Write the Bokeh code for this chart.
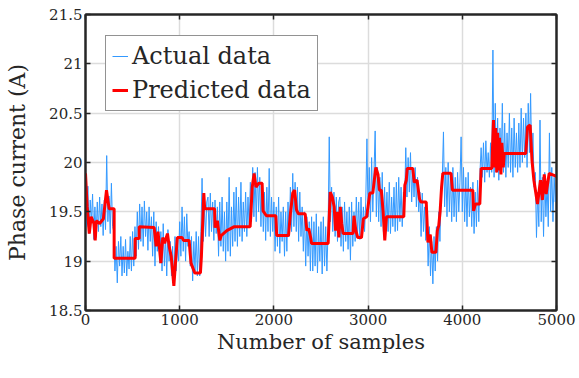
from bokeh.plotting import figure
from bokeh.models import Range1d, FixedTicker, LinearAxis, Legend, LegendItem, CustomJSTickFormatter
from bokeh.embed import file_html
from bokeh.resources import INLINE

# ---- data ----
sample_step = 12.5
actual_values = [
    19.70, 19.35, 19.76, 19.28, 19.62, 19.40, 19.68, 19.22,
    19.55, 19.24, 19.60, 19.30, 19.65, 19.35, 19.58, 19.26,
    19.62, 19.32, 20.07, 19.40, 19.66, 19.28, 19.79, 19.35,
    19.30, 18.90, 19.15, 18.78, 19.20, 18.95, 19.25, 18.85,
    19.15, 18.88, 19.22, 18.85, 19.10, 18.92, 19.25, 18.90,
    19.30, 18.95, 19.35, 19.05, 19.50, 19.12, 19.58, 19.20,
    19.55, 19.15, 19.61, 19.25, 19.50, 19.11, 19.55, 19.20,
    19.45, 19.05, 19.50, 18.95, 19.40, 19.10, 19.35, 18.98,
    19.30, 18.90, 19.38, 18.95, 19.25, 18.85, 19.32, 19.00,
    19.20, 18.85, 19.15, 18.75, 19.25, 18.90, 19.18, 19.00,
    19.40, 19.05, 19.55, 19.10, 19.45, 19.00, 19.48, 19.15,
    19.30, 18.95, 19.25, 18.80, 19.20, 18.90, 19.30, 18.85,
    19.25, 18.85, 19.30, 19.84, 19.20, 19.55, 19.25, 19.60,
    19.65, 19.25, 19.69, 19.30, 19.60, 19.21, 19.62, 19.28,
    19.55, 19.05, 19.60, 19.15, 19.65, 19.10, 19.50, 19.00,
    19.60, 19.10, 19.85, 19.05, 19.55, 19.15, 19.70, 19.20,
    19.75, 19.15, 19.65, 19.25, 19.80, 19.20, 19.60, 19.30,
    19.70, 19.25, 19.65, 19.35, 19.80, 19.40, 19.95, 19.45,
    19.90, 19.40, 19.95, 19.50, 19.85, 19.35, 19.80, 19.30,
    19.70, 19.21, 19.75, 19.30, 19.94, 19.25, 19.65, 19.30,
    19.60, 19.10, 19.55, 19.15, 19.65, 19.08, 19.50, 19.20,
    19.55, 19.05, 19.50, 19.10, 19.60, 19.25, 19.75, 19.30,
    19.89, 19.35, 19.80, 19.30, 19.75, 19.20, 19.70, 19.25,
    19.55, 19.10, 19.50, 18.95, 19.45, 19.05, 19.40, 18.90,
    19.45, 18.90, 19.40, 18.95, 19.48, 18.88, 19.35, 19.00,
    19.40, 18.87, 19.45, 18.95, 19.35, 18.90, 19.30, 20.26,
    19.40, 19.75, 19.30, 19.70, 19.25, 19.65, 19.20, 19.60,
    19.65, 19.15, 19.55, 19.10, 19.60, 19.20, 19.50, 19.12,
    19.55, 19.01, 19.60, 19.15, 19.50, 19.20, 19.65, 19.25,
    19.60, 19.22, 19.65, 19.25, 19.55, 19.30, 19.60, 20.24,
    19.45, 19.95, 19.40, 20.05, 19.50, 19.90, 20.32, 19.45,
    19.95, 19.40, 19.85, 19.35, 19.90, 19.30, 19.75, 19.35,
    19.70, 19.30, 19.80, 19.28, 19.65, 19.35, 19.75, 19.30,
    19.80, 19.31, 19.85, 19.40, 19.75, 19.35, 19.70, 19.60,
    20.15, 19.65, 20.05, 19.70, 20.10, 19.60, 19.95, 19.65,
    19.95, 19.55, 19.85, 19.50, 19.70, 19.25, 19.69, 19.30,
    19.55, 19.21, 19.40, 18.95, 19.35, 18.85, 19.20, 18.77,
    19.25, 18.90, 19.35, 19.00, 19.50, 19.20, 19.65, 19.85,
    20.31, 19.55, 19.95, 19.45, 20.00, 19.50, 19.90, 19.40,
    19.95, 19.45, 19.85, 19.40, 19.90, 19.50, 19.80, 20.26,
    19.50, 19.95, 19.40, 19.85, 19.35, 19.90, 19.45, 19.75,
    19.35, 19.80, 19.28, 19.70, 19.35, 19.82, 19.40, 19.90,
    20.15, 19.85, 20.20, 19.80, 20.22, 19.90, 20.10, 19.85,
    20.20, 19.90, 21.14, 19.85, 20.60, 19.90, 20.45, 19.82,
    20.35, 19.95, 20.60, 19.90, 20.40, 19.85, 20.30, 19.95,
    20.50, 19.90, 20.35, 19.85, 20.45, 19.95, 20.30, 19.90,
    20.40, 19.95, 20.55, 20.00, 20.45, 20.05, 20.50, 19.95,
    20.60, 20.10, 20.70, 20.00, 20.30, 19.75, 19.90, 19.24,
    19.70, 19.35, 20.43, 19.40, 19.85, 19.25, 19.90, 19.45,
    19.80, 19.35, 20.30, 19.50, 19.95, 19.40, 19.85, 19.60,
    19.80,
]
actual_samples = [i * sample_step for i in range(len(actual_values))]

predicted_samples = [
    0, 18, 40, 60, 90, 103, 115, 150, 190, 223, 251, 304, 304, 527, 527, 570,
    570, 729, 750, 770, 800, 820, 840, 870, 890, 910, 938, 955, 975, 1026,
    1040, 1100, 1120, 1160, 1220, 1230, 1256, 1265, 1370, 1375, 1400, 1426,
    1440, 1500, 1580, 1748, 1770, 1790, 1810, 1840, 1875, 1885, 1920, 2020,
    2030, 2155, 2175, 2200, 2220, 2240, 2260, 2332, 2350, 2370, 2390, 2400,
    2576, 2598, 2620, 2640, 2655, 2670, 2690, 2705, 2720, 2735, 2840, 2850,
    2870, 2890, 2930, 2950, 2985, 3018, 3050, 3082, 3105, 3120, 3140, 3160,
    3177, 3195, 3379, 3390, 3405, 3415, 3474, 3490, 3520, 3546, 3560, 3617,
    3635, 3660, 3677, 3720, 3735, 3750, 3765, 3780, 3793, 3880, 3895, 4111,
    4120, 4140, 4186, 4200, 4313, 4331, 4345, 4355, 4365, 4375, 4385, 4395,
    4410, 4420, 4435, 4445, 4674, 4692, 4720, 4740, 4760, 4798, 4830, 4850,
    4870, 4890, 4922, 5000,
]
predicted_values = [
    19.89, 19.55, 19.28, 19.45, 19.38, 19.21, 19.41, 19.38, 19.43, 19.72, 19.53, 19.53, 19.03, 19.03, 19.23, 19.23,
    19.35, 19.34, 19.15, 19.30, 18.98, 19.24, 19.18, 19.28, 19.14, 19.05, 18.75, 18.98, 19.24, 19.24,
    19.21, 19.21, 18.98, 18.88, 18.88, 19.04, 19.69, 19.53, 19.53, 19.34, 19.41, 19.21,
    19.26, 19.31, 19.35, 19.35, 19.75, 19.89, 19.75, 19.79, 19.79, 19.51, 19.46, 19.46,
    19.26, 19.26, 19.48, 19.69, 19.72, 19.52, 19.48, 19.48, 19.31, 19.33, 19.24, 19.18,
    19.18, 19.70, 19.65, 19.55, 19.31, 19.50, 19.24, 19.55, 19.38, 19.28, 19.28, 19.46,
    19.31, 19.24, 19.24, 19.43, 19.45, 19.69, 19.69, 19.95, 19.88, 19.72, 19.72, 19.50,
    19.21, 19.45, 19.45, 19.77, 19.82, 19.94, 19.94, 19.80, 19.82, 19.63, 19.60, 19.60,
    19.19, 19.27, 19.09, 19.09, 19.31, 19.36, 19.51, 19.75, 19.89, 19.89, 19.72, 19.72,
    19.51, 19.58, 19.58, 19.94, 19.94, 20.43, 19.95, 20.35, 19.90, 20.30, 19.92, 20.25,
    19.88, 20.20, 19.95, 20.09, 20.09, 20.36, 20.38, 20.02, 19.82, 19.58, 19.82, 19.62,
    19.88, 19.68, 19.89, 19.86,
]

x_ticks = [0, 1000, 2000, 3000, 4000, 5000]
y_ticks = [18.5, 19, 19.5, 20, 20.5, 21, 21.5]
y_tick_labels = ["18.5", "19", "19.5", "20", "20.5", "21", "21.5"]

FONT = "DejaVu Serif"
AXIS_COLOR = "#262626"

p = figure(width=579, height=378, output_backend="svg", toolbar_location=None,
           x_range=Range1d(0, 5000), y_range=Range1d(18.5, 21.5),
           min_border_left=85, min_border_right=23, min_border_top=14, min_border_bottom=68)

p.outline_line_color = AXIS_COLOR
p.outline_line_width = 2
p.outline_line_alpha = 1

rb = p.line(actual_samples, actual_values, line_color="#3399FF", line_width=1)
rr = p.line(predicted_samples, predicted_values, line_color="#FF0000", line_width=3)

# axes
p.xaxis.ticker = FixedTicker(ticks=x_ticks)
p.yaxis.ticker = FixedTicker(ticks=y_ticks)
p.yaxis.major_label_overrides = {t: l for t, l in zip(y_ticks, y_tick_labels)}
for ax in (p.xaxis[0], p.yaxis[0]):
    ax.major_tick_in = 5
    ax.major_tick_out = 0
    ax.minor_tick_in = 0
    ax.minor_tick_out = 0
    ax.axis_line_color = AXIS_COLOR
    ax.axis_line_width = 2
    ax.major_tick_line_color = AXIS_COLOR
    ax.major_tick_line_width = 1.5
    ax.major_label_text_font = FONT
    ax.major_label_text_font_size = "15px"
    ax.major_label_text_color = "#262626"
    ax.axis_label_text_font = FONT
    ax.axis_label_text_font_style = "normal"
    ax.axis_label_text_color = "#262626"
p.xaxis.axis_label = "Number of samples"
p.xaxis.axis_label_text_font_size = "21px"
p.xaxis.major_label_standoff = 3
p.xaxis.axis_label_standoff = 2
p.yaxis.axis_label = "Phase current (A)"
p.yaxis.axis_label_text_font_size = "22px"
p.yaxis.major_label_standoff = 3
p.yaxis.axis_label_standoff = 16

# mirrored axes (box with inward ticks, no labels)
blank = CustomJSTickFormatter(code="return ''")
top = LinearAxis(ticker=FixedTicker(ticks=x_ticks), formatter=blank,
                 major_label_standoff=0, major_tick_in=5, major_tick_out=0,
                 minor_tick_in=0, minor_tick_out=0, axis_line_color=AXIS_COLOR,
                 axis_line_width=2, major_tick_line_color=AXIS_COLOR, major_tick_line_width=1.5)
right = LinearAxis(ticker=FixedTicker(ticks=y_ticks), formatter=blank,
                   major_label_standoff=0, major_tick_in=5, major_tick_out=0,
                   minor_tick_in=0, minor_tick_out=0, axis_line_color=AXIS_COLOR,
                   axis_line_width=2, major_tick_line_color=AXIS_COLOR, major_tick_line_width=1.5)
p.add_layout(top, "above")
p.add_layout(right, "right")

# grid
p.xgrid.ticker = FixedTicker(ticks=x_ticks)
p.ygrid.ticker = FixedTicker(ticks=y_ticks)
for g in (p.xgrid[0], p.ygrid[0]):
    g.grid_line_color = "#dcdcdc"
    g.grid_line_width = 1.5

legend = Legend(items=[LegendItem(label="Actual data", renderers=[rb]),
                       LegendItem(label="Predicted data", renderers=[rr])],
                location=(20, 199))
legend.border_line_color = "#262626"
legend.border_line_width = 1.5
legend.background_fill_color = "white"
legend.background_fill_alpha = 1
legend.label_text_font = FONT
legend.label_text_font_size = "24px"
legend.label_text_color = "#262626"
legend.glyph_width = 16
legend.glyph_height = 28
legend.label_height = 28
legend.label_standoff = 4
legend.spacing = 6
legend.padding = 6
legend.margin = 0
p.add_layout(legend)

open("out.html", "w").write(file_html(p, INLINE))
